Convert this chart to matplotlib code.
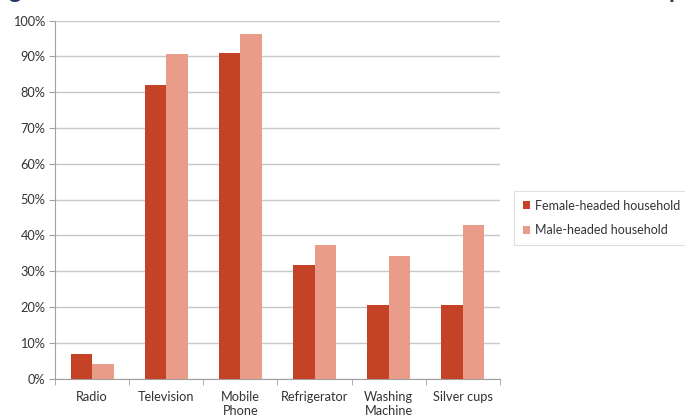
import numpy as np
from matplotlib import pyplot as plt
from matplotlib.ticker import PercentFormatter

categories = ['Radio', 'Television', 'Mobile\nPhone', 'Refrigerator', 'Washing\nMachine', 'Silver cups']
female = [6.8, 82.0, 91.0, 31.8, 20.4, 20.4]
male = [4.0, 90.6, 96.2, 37.2, 34.1, 42.8]
series_names = ['Female-headed household', 'Male-headed household']

plt.rcParams['font.family'] = ['Lato', 'DejaVu Sans']

fig = plt.figure(figsize=(6.85, 4.16), dpi=100)
ax = fig.add_axes([55 / 685, 1 - 378.5 / 416, 445 / 685, 358 / 416])

x = np.arange(len(categories))
w = 0.29
ax.bar(x - w / 2, female, w, color='#C44326', label=series_names[0], zorder=3)
ax.bar(x + w / 2, male, w, color='#EA9C8A', label=series_names[1], zorder=3)

ax.set_xlim(-0.5, len(categories) - 0.5)
ax.set_ylim(0, 100)
ax.set_yticks(np.arange(0, 101, 10))
ax.yaxis.set_major_formatter(PercentFormatter(decimals=0))
ax.yaxis.grid(True, color='#C8C8C8', linewidth=1, zorder=0)

# category labels sit between the tick marks
ax.set_xticks(x)
ax.set_xticklabels(categories, fontsize=9.2, color='#333333', linespacing=1.2)
ax.set_xticks(np.arange(-0.5, len(categories), 1), minor=True)
ax.tick_params(axis='x', which='major', length=0, pad=9)
ax.tick_params(axis='x', which='minor', length=4, color='#A0A0A0')
ax.tick_params(axis='y', length=4, color='#A0A0A0', labelsize=9.2, labelcolor='#333333', pad=3)

for s in ['top', 'right']:
    ax.spines[s].set_visible(False)
for s in ['left', 'bottom']:
    ax.spines[s].set_color('#A0A0A0')

leg = ax.legend(loc='upper left', bbox_to_anchor=(514 / 685, 1 - 191 / 416),
                bbox_transform=fig.transFigure, frameon=True, fancybox=False,
                fontsize=9.0, handlelength=0.6, handleheight=0.6, handletextpad=0.4,
                labelspacing=1.0, borderpad=0.7, borderaxespad=0)
leg.get_frame().set_edgecolor('#D9D9D9')
leg.get_frame().set_linewidth(0.8)
for t in leg.get_texts():
    t.set_color('#333333')

# the heading above is cut off by the top edge
fig.text(8 / 685, 1 + 2 / 416, 'g', fontsize=17, fontweight='bold', color='#1F3864', va='baseline')
fig.text(668 / 685, 1 + 2 / 416, 'p', fontsize=17, fontweight='bold', color='#1F3864', va='baseline')

fig.savefig('out.png', dpi=100)
